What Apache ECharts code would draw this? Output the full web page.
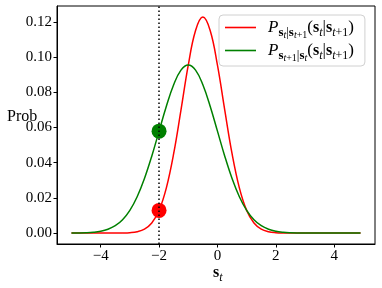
<!DOCTYPE html>
<html><head><meta charset="utf-8">
<script src="https://cdn.jsdelivr.net/npm/echarts@6/dist/echarts.min.js"></script>
<style>html,body{margin:0;padding:0;background:#fff}#c{width:382px;height:288px}</style>
</head><body><div id="c"></div>
<script>
const xs = [-5,-4.75,-4.5,-4.25,-4,-3.75,-3.5,-3.25,-3,-2.75,-2.5,-2.25,-2,-1.75,-1.5,-1.25,-1,-0.75,-0.5,-0.25,0,0.25,0.5,0.75,1,1.25,1.5,1.75,2,2.25,2.5,2.75,3,3.25,3.5,3.75,4,4.25,4.5,4.75,4.9];
const redVals = [0,0,0,0,0,0,0.00002,0.00006,0.00024,0.00078,0.00224,0.00573,0.0129,0.0257,0.0451,0.0698,0.0954,0.1151,0.1227,0.1151,0.0954,0.0698,0.0451,0.0257,0.0129,0.00573,0.00224,0.00078,0.00024,0.00006,0.00002,0,0,0,0,0,0,0,0,0,0];
const greenVals = [0.00003,0.00008,0.00021,0.00049,0.00106,0.00218,0.00419,0.0076,0.01292,0.02066,0.031,0.0437,0.0579,0.0721,0.0843,0.0926,0.0955,0.0926,0.0843,0.0721,0.0579,0.0437,0.031,0.02066,0.01292,0.0076,0.00419,0.00218,0.00106,0.00049,0.00021,0.00008,0.00003,0.00001,0,0,0,0,0,0,0];
const markX = [-2];
const markRed = [0.0129];
const markGreen = [0.0579];
const xTicks = [-4,-2,0,2,4];
const yTicks = [0,0.02,0.04,0.06,0.08,0.10,0.12];
const seriesNames = ['red','green'];

const F = 'Liberation Serif';
const rich = {
  P: {fontFamily:F, fontStyle:'italic', fontSize:17, lineHeight:20, color:'#000'},
  s1: {fontFamily:F, fontWeight:'bold', fontSize:13, lineHeight:10, padding:[10,0,0,0], color:'#000'},
  r1: {fontFamily:F, fontSize:13, lineHeight:10, padding:[10,0,0,0], color:'#000'},
  t1: {fontFamily:F, fontStyle:'italic', fontSize:10, lineHeight:5, padding:[15,0,0,0], color:'#000'},
  o1: {fontFamily:F, fontSize:10, lineHeight:5, padding:[15,0,0,0], color:'#000'},
  n: {fontFamily:F, fontSize:17, lineHeight:20, color:'#000'},
  b: {fontFamily:F, fontWeight:'bold', fontSize:16, lineHeight:20, color:'#000'},
  t2: {fontFamily:F, fontStyle:'italic', fontSize:12, lineHeight:10, padding:[10,0,0,0], color:'#000'},
  o2: {fontFamily:F, fontSize:12, lineHeight:10, padding:[10,0,0,0], color:'#000'}
};
const legendText = {
  red: '{P|P}{s1|s}{t1|t}{r1||}{s1|s}{t1|t}{o1|+1}{n|(}{b|s}{t2|t}{n||}{b|s}{t2|t}{o2|+1}{n|)}',
  green: '{P|P}{s1|s}{t1|t}{o1|+1}{r1||}{s1|s}{t1|t}{n|(}{b|s}{t2|t}{n||}{b|s}{t2|t}{o2|+1}{n|)}'
};

const chart = echarts.init(document.getElementById('c'), null, {renderer:'canvas'});
const fmtX = v => v < 0 ? '\u2212' + Math.abs(v) : String(v);
chart.setOption({
  animation: false,
  backgroundColor: '#fff',
  grid: {left:57, right:7, top:6, bottom:44, show:true, borderColor:'#000', borderWidth:1, backgroundColor:'transparent'},
  xAxis: {
    type:'value', min:-5.495, max:5.395,
    axisLine:{show:true, onZero:false, lineStyle:{color:'#000', width:1}},
    axisTick:{show:true, inside:false, length:3.5, lineStyle:{color:'#000'}, customValues:xTicks},
    axisLabel:{customValues:xTicks, formatter:fmtX, fontFamily:F, fontSize:15, color:'#000', margin:5},
    splitLine:{show:false}
  },
  yAxis: {
    type:'value', min:-0.0062, max:0.129,
    axisLine:{show:true, onZero:false, lineStyle:{color:'#000', width:1}},
    axisTick:{show:true, inside:false, length:3.5, lineStyle:{color:'#000'}, customValues:yTicks},
    axisLabel:{customValues:yTicks, formatter:v => v.toFixed(2), fontFamily:F, fontSize:15, color:'#000', margin:5},
    splitLine:{show:false}
  },
  legend: {
    orient:'vertical', left:219, top:15,
    data:[{name:'red', icon:'rect'}, {name:'green', icon:'rect'}],
    itemWidth:31, itemHeight:1.6, itemGap:-2,
    padding:[0,11,3,6],
    backgroundColor:'rgba(255,255,255,0.8)', borderColor:'#d0d0d0', borderWidth:1, borderRadius:4,
    formatter: name => legendText[name],
    textStyle:{rich:rich, padding:[0,0,0,7]}
  },
  graphic: [
    {type:'text', left:7, top:109, style:{text:'Prob', fontFamily:F, fontSize:16, fill:'#000'}},
    {type:'text', left:213, top:262, style:{text:'{b|s}{t2|t}', rich:rich}}
  ],
  series: [
    {name:'red', type:'line', data: xs.map((x,i)=>[x, redVals[i]]), smooth:0.4, showSymbol:false, symbol:'none',
     lineStyle:{color:'#ff0000', width:1.5}, itemStyle:{color:'#ff0000'}, z:2},
    {name:'green', type:'line', data: xs.map((x,i)=>[x, greenVals[i]]), smooth:0.4, showSymbol:false, symbol:'none',
     lineStyle:{color:'#008000', width:1.5}, itemStyle:{color:'#008000'}, z:2},
    {name:'pg', type:'scatter', data: markX.map((x,i)=>[x, markGreen[i]]), symbolSize:15, itemStyle:{color:'#008000', opacity:1}, z:3},
    {name:'pr', type:'scatter', data: markX.map((x,i)=>[x, markRed[i]]), symbolSize:15, itemStyle:{color:'#ff0000', opacity:1}, z:3},
    {name:'vline', type:'line', data:[], z:4,
     markLine:{silent:true, symbol:'none', label:{show:false},
       lineStyle:{type:[1.5,2.5], color:'#000', width:1.5},
       data: markX.map(x=>({xAxis:x}))}}
  ]
});
</script></body></html>
